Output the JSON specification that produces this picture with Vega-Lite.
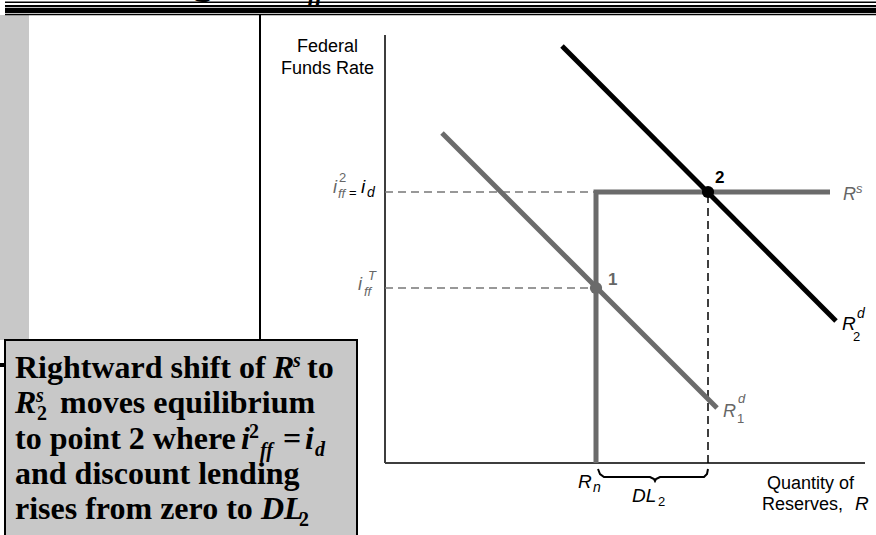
{
  "$schema": "https://vega.github.io/schema/vega-lite/v6.json",
  "width": 876,
  "height": 535,
  "autosize": {"type": "none"},
  "padding": 0,
  "background": "white",
  "config": {"view": {"stroke": null}},
  "encoding": {
    "x": {"field": "R", "type": "quantitative", "scale": {"domain": [-385, 491], "nice": false, "zero": false}, "axis": null},
    "y": {"field": "i", "type": "quantitative", "scale": {"domain": [-72, 463], "nice": false, "zero": false}, "axis": null}
  },
  "datasets": {
    "frameGray": [{"R": -385, "R2": -356, "i": 448, "i2": 123}],
    "frameBlack": [
      {"R": -380, "R2": 491, "i": 461.5, "i2": 460},
      {"R": -380, "R2": 491, "i": 458, "i2": 455.7},
      {"R": -380, "R2": 491, "i": 455, "i2": 449.7},
      {"R": -380, "R2": 491, "i": 449, "i2": 447.7},
      {"R": -126, "R2": -124, "i": 448, "i2": 123},
      {"R": -385, "R2": -380, "i": 100, "i2": 96}
    ],
    "title": [{"R": -192, "i": 470, "t": "g"}],
    "titleItalic": [{"R": -77, "i": 462, "t": "ff"}],
    "box": [{"R": -380, "R2": -28, "i": 123, "i2": -80}],
    "axes": [
      {"R": 0, "R2": 0, "i": 0, "i2": 428},
      {"R": 0, "R2": 480, "i": 0, "i2": 0}
    ],
    "dashGray": [
      {"R": 0, "R2": 211, "i": 271, "i2": 271},
      {"R": 0, "R2": 211, "i": 175, "i2": 175}
    ],
    "dashBlack": [{"R": 323, "R2": 323, "i": 0, "i2": 271}],
    "grayCurves": [
      {"curve": "Rs", "k": 0, "R": 211, "i": 0},
      {"curve": "Rs", "k": 1, "R": 211, "i": 271},
      {"curve": "Rs", "k": 2, "R": 445, "i": 271},
      {"curve": "R1d", "k": 0, "R": 57, "i": 330},
      {"curve": "R1d", "k": 1, "R": 332, "i": 55}
    ],
    "blackCurves": [
      {"curve": "R2d", "k": 0, "R": 177, "i": 417},
      {"curve": "R2d", "k": 1, "R": 451, "i": 142}
    ],
    "brace": [
      {"k": 0, "R": 213, "i": -6},
      {"k": 1, "R": 215, "i": -11},
      {"k": 2, "R": 219, "i": -14},
      {"k": 3, "R": 265, "i": -14},
      {"k": 4, "R": 269, "i": -16},
      {"k": 5, "R": 270, "i": -18},
      {"k": 6, "R": 271, "i": -16},
      {"k": 7, "R": 275, "i": -14},
      {"k": 8, "R": 319, "i": -14},
      {"k": 9, "R": 322, "i": -11},
      {"k": 10, "R": 323, "i": -6}
    ],
    "point1": [{"R": 211, "i": 175}],
    "point2": [{"R": 323, "i": 271}],
    "regBlack": [
      {"R": -88, "i": 411, "t": "Federal"},
      {"R": -104, "i": 389, "t": "Funds Rate"},
      {"R": 382, "i": -26, "t": "Quantity of"},
      {"R": 377, "i": -47, "t": "Reserves,"}
    ],
    "italGray": [
      {"R": 458, "i": 263, "t": "R"},
      {"R": 338, "i": 46, "t": "R"},
      {"R": -52, "i": 270, "t": "i"},
      {"R": -27, "i": 173, "t": "i"}
    ],
    "italBlack": [
      {"R": 457, "i": 133, "t": "R"},
      {"R": 193, "i": -25, "t": "R"},
      {"R": 247, "i": -39, "t": "DL"},
      {"R": 470, "i": -47, "t": "R"},
      {"R": -24, "i": 270, "t": "i"}
    ],
    "italGraySmall": [
      {"R": 471, "i": 270, "t": "s"},
      {"R": 353, "i": 60, "t": "d"},
      {"R": -47, "i": 265, "t": "ff"},
      {"R": -17, "i": 183, "t": "T"},
      {"R": -21, "i": 167, "t": "ff"}
    ],
    "italBlackSmall": [
      {"R": 472, "i": 145, "t": "d"},
      {"R": 208, "i": -29, "t": "n"},
      {"R": -18, "i": 266, "t": "d"}
    ],
    "regGraySmall": [
      {"R": -46, "i": 281, "t": "2"},
      {"R": 352, "i": 40, "t": "1"}
    ],
    "regBlackSmall": [
      {"R": 468, "i": 122, "t": "2"},
      {"R": 273, "i": -43, "t": "2"},
      {"R": -36, "i": 266, "t": "="}
    ],
    "boldGray": [{"R": 223, "i": 178, "t": "1"}],
    "boldBlack": [{"R": 330, "i": 280, "t": "2"}],
    "boxBold": [
      {"R": -370, "i": 85, "t": "Rightward shift of"},
      {"R": -78, "i": 85, "t": "to"},
      {"R": -325, "i": 50, "t": "moves equilibrium"},
      {"R": -370, "i": 14, "t": "to point 2 where"},
      {"R": -102, "i": 14, "t": "="},
      {"R": -370, "i": -21, "t": "and discount lending"},
      {"R": -370, "i": -56, "t": "rises from zero to"}
    ],
    "boxBoldItalic": [
      {"R": -112, "i": 85, "t": "R"},
      {"R": -370, "i": 50, "t": "R"},
      {"R": -144, "i": 14, "t": "i"},
      {"R": -80, "i": 14, "t": "i"},
      {"R": -124, "i": -56, "t": "DL"}
    ],
    "boxSmall": [
      {"R": -136, "i": 25, "t": "2"},
      {"R": -348, "i": 43, "t": "2"},
      {"R": -86, "i": -63, "t": "2"}
    ],
    "boxSmallItalic": [
      {"R": -92, "i": 96, "t": "s"},
      {"R": -349, "i": 61, "t": "s"},
      {"R": -125, "i": 6, "t": "ff"},
      {"R": -70, "i": 7, "t": "d"}
    ]
  },
  "layer": [
    {"data": {"name": "frameGray"}, "mark": {"type": "rect", "color": "#c8c8c8"}, "encoding": {"x2": {"field": "R2"}, "y2": {"field": "i2"}}},
    {"data": {"name": "frameBlack"}, "mark": {"type": "rect", "color": "#000000"}, "encoding": {"x2": {"field": "R2"}, "y2": {"field": "i2"}}},
    {"data": {"name": "title"}, "mark": {"type": "text", "align": "left", "baseline": "alphabetic", "font": "Liberation Serif", "fontSize": 40, "fontWeight": "bold", "color": "#000000"}, "encoding": {"text": {"field": "t"}}},
    {"data": {"name": "titleItalic"}, "mark": {"type": "text", "align": "left", "baseline": "alphabetic", "font": "Liberation Serif", "fontSize": 24, "fontWeight": "bold", "fontStyle": "italic", "color": "#000000"}, "encoding": {"text": {"field": "t"}}},
    {"data": {"name": "box"}, "mark": {"type": "rect", "fill": "#c8c8c8", "stroke": "#000000", "strokeWidth": 2}, "encoding": {"x2": {"field": "R2"}, "y2": {"field": "i2"}}},
    {"data": {"name": "axes"}, "mark": {"type": "rule", "color": "#3d3d3d", "strokeWidth": 2}, "encoding": {"x2": {"field": "R2"}, "y2": {"field": "i2"}}},
    {"data": {"name": "dashGray"}, "mark": {"type": "rule", "color": "#777777", "strokeWidth": 1.5, "strokeDash": [8, 5]}, "encoding": {"x2": {"field": "R2"}, "y2": {"field": "i2"}}},
    {"data": {"name": "dashBlack"}, "mark": {"type": "rule", "color": "#000000", "strokeWidth": 1.5, "strokeDash": [8, 5]}, "encoding": {"x2": {"field": "R2"}, "y2": {"field": "i2"}}},
    {"data": {"name": "grayCurves"}, "mark": {"type": "line", "color": "#6b6b6b", "strokeWidth": 5, "strokeJoin": "miter", "strokeCap": "butt"}, "encoding": {"detail": {"field": "curve"}, "order": {"field": "k"}}},
    {"data": {"name": "blackCurves"}, "mark": {"type": "line", "color": "#000000", "strokeWidth": 5, "strokeCap": "butt"}, "encoding": {"detail": {"field": "curve"}, "order": {"field": "k"}}},
    {"data": {"name": "brace"}, "mark": {"type": "line", "color": "#000000", "strokeWidth": 2}, "encoding": {"order": {"field": "k"}}},
    {"data": {"name": "point1"}, "mark": {"type": "point", "filled": true, "size": 150, "color": "#6b6b6b", "opacity": 1}},
    {"data": {"name": "point2"}, "mark": {"type": "point", "filled": true, "size": 150, "color": "#000000", "opacity": 1}},
    {"data": {"name": "regBlack"}, "mark": {"type": "text", "align": "left", "baseline": "alphabetic", "font": "Liberation Sans", "fontSize": 18, "color": "#000000"}, "encoding": {"text": {"field": "t"}}},
    {"data": {"name": "italGray"}, "mark": {"type": "text", "align": "left", "baseline": "alphabetic", "font": "Liberation Sans", "fontSize": 18, "fontStyle": "italic", "color": "#666666"}, "encoding": {"text": {"field": "t"}}},
    {"data": {"name": "italBlack"}, "mark": {"type": "text", "align": "left", "baseline": "alphabetic", "font": "Liberation Sans", "fontSize": 19, "fontStyle": "italic", "color": "#000000"}, "encoding": {"text": {"field": "t"}}},
    {"data": {"name": "italGraySmall"}, "mark": {"type": "text", "align": "left", "baseline": "alphabetic", "font": "Liberation Sans", "fontSize": 13, "fontStyle": "italic", "color": "#666666"}, "encoding": {"text": {"field": "t"}}},
    {"data": {"name": "italBlackSmall"}, "mark": {"type": "text", "align": "left", "baseline": "alphabetic", "font": "Liberation Sans", "fontSize": 14, "fontStyle": "italic", "color": "#000000"}, "encoding": {"text": {"field": "t"}}},
    {"data": {"name": "regGraySmall"}, "mark": {"type": "text", "align": "left", "baseline": "alphabetic", "font": "Liberation Sans", "fontSize": 13, "color": "#666666"}, "encoding": {"text": {"field": "t"}}},
    {"data": {"name": "regBlackSmall"}, "mark": {"type": "text", "align": "left", "baseline": "alphabetic", "font": "Liberation Sans", "fontSize": 13, "color": "#000000"}, "encoding": {"text": {"field": "t"}}},
    {"data": {"name": "boldGray"}, "mark": {"type": "text", "align": "left", "baseline": "alphabetic", "font": "Liberation Sans", "fontSize": 17, "fontWeight": "bold", "color": "#666666"}, "encoding": {"text": {"field": "t"}}},
    {"data": {"name": "boldBlack"}, "mark": {"type": "text", "align": "left", "baseline": "alphabetic", "font": "Liberation Sans", "fontSize": 17, "fontWeight": "bold", "color": "#000000"}, "encoding": {"text": {"field": "t"}}},
    {"data": {"name": "boxBold"}, "mark": {"type": "text", "align": "left", "baseline": "alphabetic", "font": "Liberation Serif", "fontSize": 32, "fontWeight": "bold", "color": "#000000"}, "encoding": {"text": {"field": "t"}}},
    {"data": {"name": "boxBoldItalic"}, "mark": {"type": "text", "align": "left", "baseline": "alphabetic", "font": "Liberation Serif", "fontSize": 32, "fontWeight": "bold", "fontStyle": "italic", "color": "#000000"}, "encoding": {"text": {"field": "t"}}},
    {"data": {"name": "boxSmall"}, "mark": {"type": "text", "align": "left", "baseline": "alphabetic", "font": "Liberation Serif", "fontSize": 20, "fontWeight": "bold", "color": "#000000"}, "encoding": {"text": {"field": "t"}}},
    {"data": {"name": "boxSmallItalic"}, "mark": {"type": "text", "align": "left", "baseline": "alphabetic", "font": "Liberation Serif", "fontSize": 20, "fontWeight": "bold", "fontStyle": "italic", "color": "#000000"}, "encoding": {"text": {"field": "t"}}}
  ]
}
